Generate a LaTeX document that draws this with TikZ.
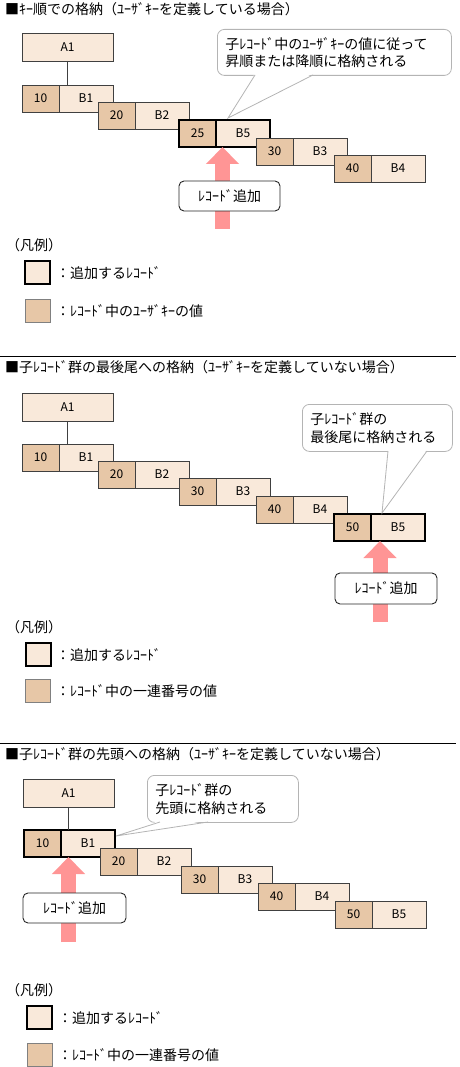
\documentclass[tikz,border=0pt]{standalone}
\usepackage{fontspec}
\setmainfont{Noto Sans CJK JP}
\usetikzlibrary{arrows.meta,positioning}
\definecolor{recfill}{HTML}{F9E9DA}
\definecolor{keyfill}{HTML}{E7C7A7}
\definecolor{addpink}{HTML}{FF9595}
\definecolor{cellline}{HTML}{404040}
\definecolor{tipline}{HTML}{B4B4B4}
\tikzset{
	cellbase/.style={draw=cellline,line width=0.9pt,minimum height=27pt,inner sep=0pt,outer sep=0pt,font=\fontsize{12}{14}\selectfont},
	keycell/.style={cellbase,fill=keyfill,minimum width=37pt},
	valcell/.style={cellbase,fill=recfill,minimum width=54pt},
	parentrec/.style={cellbase,fill=recfill,minimum width=91pt,minimum height=28pt,anchor=north west},
	newrec/.style={draw=black,line width=2pt},
	lbl/.style={anchor=west,inner sep=0pt},
	tipbox/.style={draw=tipline,line width=0.8pt,fill=white,rounded corners=7pt,anchor=north west,align=left,inner xsep=8pt,inner ysep=0pt},
	addbox/.style={draw=black!85,line width=0.9pt,fill=white,rounded corners=5pt,minimum width=101pt,minimum height=30pt,inner sep=0pt},
	addarrow/.style={draw=addpink,line width=15pt,-{Triangle[length=17pt,width=32pt]}},
	legnew/.style={draw=black,line width=2pt,fill=recfill,minimum width=25pt,minimum height=23pt,inner sep=0pt},
	legkey/.style={draw=gray,line width=0.9pt,fill=keyfill,minimum width=25pt,minimum height=23pt,inner sep=0pt}
}
\begin{document}
\begin{tikzpicture}[x=1pt,y=-1pt,every node/.style={font=\fontsize{14}{17.5}\selectfont}]
	\useasboundingbox (0,0) rectangle (459,1067);
	% key order
	\node[lbl] (title1) at (5,9) {■ｷｰ順での格納（ﾕｰｻﾞｷｰを定義している場合）};
	\node[parentrec] (a1) at (22,33) {A1};
	\node[keycell,anchor=north west] (k11) at (22,85) {10};
	\node[valcell,right=0pt of k11] (v11) {B1};
	\node[keycell,anchor=north west] (k12) at (98,102) {20};
	\node[valcell,right=0pt of k12] (v12) {B2};
	\node[keycell,newrec,anchor=north west] (k13) at (179,120) {25};
	\node[valcell,newrec,right=0pt of k13] (v13) {B5};
	\node[keycell,anchor=north west] (k14) at (256,138) {30};
	\node[valcell,right=0pt of k14] (v14) {B3};
	\node[keycell,anchor=north west] (k15) at (334,155) {40};
	\node[valcell,right=0pt of k15] (v15) {B4};
	\draw[cellline,line width=0.9pt] (a1.south) -- (a1.south |- v11.north);
	\coordinate (ar1) at (222.5,229);
	\draw[addarrow] (ar1) -- (ar1 |- k13.south);
	\node[addbox] (add1) at (229.5,196) {ﾚｺｰﾄﾞ追加};
	\node[tipbox,text width=218pt,minimum height=46pt] (c1) at (217,29) {子ﾚｺｰﾄﾞ中のﾕｰｻﾞｷｰの値に従って\\昇順または降順に格納される};
	\coordinate (t1a) at (255,75);
	\coordinate (t1b) at (313,75);
	\coordinate (t1tip) at (228,118);
	\fill[white] ([yshift=1.5pt]t1a) -- (t1tip) -- ([yshift=1.5pt]t1b) -- cycle;
	\draw[tipline,line width=0.8pt] (t1a) -- (t1tip) -- (t1b);
	\node[lbl] (leg1) at (6,245) {（凡例）};
	\node[legnew] (lg1a) at (37.5,272.5) {};
	\node[lbl] (lt1a) at (56,273) {：追加するﾚｺｰﾄﾞ};
	\node[legkey] (lg1b) at (37.5,310.5) {};
	\node[lbl] (lt1b) at (56,311) {：ﾚｺｰﾄﾞ中のﾕｰｻﾞｷｰの値};
	\draw[line width=0.9pt] (0,356) -- (456,356);
	% append at tail
	\node[lbl] (title2) at (5,367) {■子ﾚｺｰﾄﾞ群の最後尾への格納（ﾕｰｻﾞｷｰを定義していない場合）};
	\node[parentrec] (a2) at (22,393) {A1};
	\node[keycell,anchor=north west] (k21) at (22,444) {10};
	\node[valcell,right=0pt of k21] (v21) {B1};
	\node[keycell,anchor=north west] (k22) at (98,461) {20};
	\node[valcell,right=0pt of k22] (v22) {B2};
	\node[keycell,anchor=north west] (k23) at (179,478) {30};
	\node[valcell,right=0pt of k23] (v23) {B3};
	\node[keycell,anchor=north west] (k24) at (256,496) {40};
	\node[valcell,right=0pt of k24] (v24) {B4};
	\node[keycell,newrec,anchor=north west] (k25) at (334,514) {50};
	\node[valcell,newrec,right=0pt of k25] (v25) {B5};
	\draw[cellline,line width=0.9pt] (a2.south) -- (a2.south |- v21.north);
	\coordinate (ar2) at (380,622);
	\draw[addarrow] (ar2) -- (ar2 |- k25.south);
	\node[addbox,minimum width=102pt,minimum height=31pt] (add2) at (386,588.5) {ﾚｺｰﾄﾞ追加};
	\node[tipbox,text width=134pt,minimum height=47pt] (c2) at (302,404) {子ﾚｺｰﾄﾞ群の\\最後尾に格納される};
	\coordinate (t2a) at (388,451);
	\coordinate (t2b) at (427,451);
	\coordinate (t2tip) at (382,513);
	\fill[white] ([yshift=1.5pt]t2a) -- (t2tip) -- ([yshift=1.5pt]t2b) -- cycle;
	\draw[tipline,line width=0.8pt] (t2a) -- (t2tip) -- (t2b);
	\node[lbl] (leg2) at (6,627) {（凡例）};
	\node[legnew] (lg2a) at (38,654.5) {};
	\node[lbl] (lt2a) at (56,655) {：追加するﾚｺｰﾄﾞ};
	\node[legkey] (lg2b) at (38,690.5) {};
	\node[lbl] (lt2b) at (56,691) {：ﾚｺｰﾄﾞ中の一連番号の値};
	\draw[line width=0.9pt] (0,743) -- (456,743);
	% insert at head
	\node[lbl] (title3) at (5,754) {■子ﾚｺｰﾄﾞ群の先頭への格納（ﾕｰｻﾞｷｰを定義していない場合）};
	\node[parentrec] (a3) at (23,779) {A1};
	\node[keycell,newrec,anchor=north west] (k31) at (24,830) {10};
	\node[valcell,newrec,right=0pt of k31] (v31) {B1};
	\node[keycell,anchor=north west] (k32) at (100,848) {20};
	\node[valcell,right=0pt of k32] (v32) {B2};
	\node[keycell,anchor=north west] (k33) at (181,866) {30};
	\node[valcell,right=0pt of k33] (v33) {B3};
	\node[keycell,anchor=north west] (k34) at (258,883) {40};
	\node[valcell,right=0pt of k34] (v34) {B4};
	\node[keycell,anchor=north west] (k35) at (335,901) {50};
	\node[valcell,right=0pt of k35] (v35) {B5};
	\draw[cellline,line width=0.9pt] (a3.south) -- (a3.south |- v31.north);
	\coordinate (ar3) at (68.5,942);
	\draw[addarrow] (ar3) -- (ar3 |- k31.south);
	\node[addbox,minimum width=103pt] (add3) at (74.5,908) {ﾚｺｰﾄﾞ追加};
	\node[tipbox,text width=135pt,minimum height=47pt] (c3) at (147,775) {子ﾚｺｰﾄﾞ群の\\先頭に格納される};
	\coordinate (t3a) at (160,822);
	\coordinate (t3b) at (208,822);
	\coordinate (t3tip) at (116,836);
	\fill[white] ([yshift=1.5pt]t3a) -- (t3tip) -- ([yshift=1.5pt]t3b) -- cycle;
	\draw[tipline,line width=0.8pt] (t3a) -- (t3tip) -- (t3b);
	\node[lbl] (leg3) at (6,990) {（凡例）};
	\node[legnew] (lg3a) at (39.5,1017.5) {};
	\node[lbl] (lt3a) at (58,1018) {：追加するﾚｺｰﾄﾞ};
	\node[legkey] (lg3b) at (39.5,1054.5) {};
	\node[lbl] (lt3b) at (58,1055) {：ﾚｺｰﾄﾞ中の一連番号の値};
\end{tikzpicture}
\end{document}
